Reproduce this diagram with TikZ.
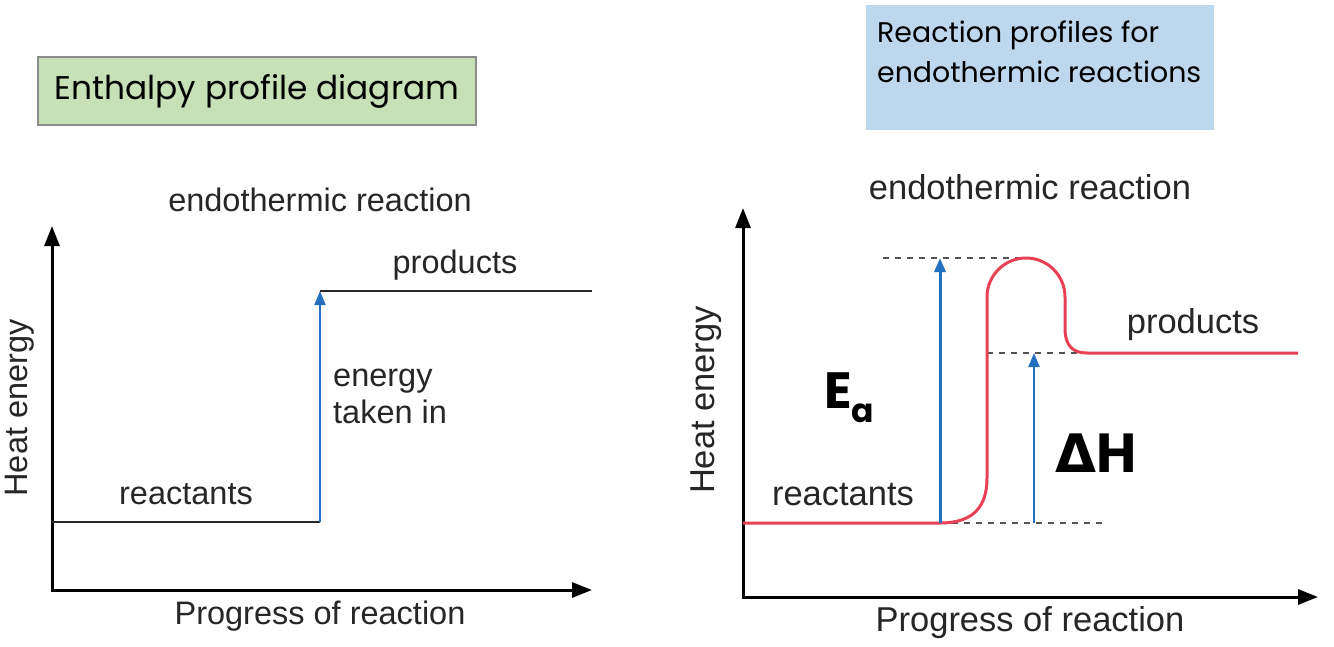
\documentclass[tikz,border=0pt]{standalone}
\usepackage{fontspec}
\setmainfont{Liberation Sans}
\newfontfamily\titlefont{Poppins}
\newfontfamily\symfont{DejaVu Sans}
\usetikzlibrary{arrows.meta}
\definecolor{boxgreen}{RGB}{199,224,182}
\definecolor{boxblue}{RGB}{189,215,238}
\definecolor{curvered}{RGB}{232,64,84}
\definecolor{arrowblue}{RGB}{36,112,192}
\definecolor{levelgray}{RGB}{40,40,40}
\tikzset{
  axis/.style={line width=3pt, black, -{Triangle[width=15pt,length=20pt]}},
  level/.style={line width=2.4pt, levelgray},
  bluearrow/.style={line width=2.2pt, arrowblue, -{Triangle[width=11pt,length=14pt]}},
  dashline/.style={line width=1.4pt, levelgray!80, dash pattern=on 6pt off 6pt},
  lbl/.style={font=\fontsize{32.5}{38}\selectfont, text=black!85, inner sep=0pt},
  rlbl/.style={font=\fontsize{34.5}{40}\selectfont, text=black!85, inner sep=0pt},
  titlebox/.style={inner sep=0pt}
}
\begin{document}
\begin{tikzpicture}[x=1pt,y=-1pt]
\useasboundingbox (0,0) rectangle (1334,646);
% ---------- left panel ----------
\node[titlebox, font=\titlefont\fontsize{32.8}{40}\selectfont, fill=boxgreen, draw=black!45, line width=1.2pt,
      minimum width=438pt, minimum height=68pt] (ltitle) at (257,91) {Enthalpy profile diagram};
\node[lbl] (lhead) at (320,200) {endothermic reaction};
\coordinate (lo) at (52,590);
\coordinate (ly) at (52,226);
\coordinate (lx) at (592,590);
\draw[axis] (lo) -- (ly);
\draw[axis] (51,590) -- (lx);
\coordinate (lr0) at (52,522);
\coordinate (lr1) at (320,522);
\coordinate (lp0) at (320,291);
\coordinate (lp1) at (592,291);
\draw[level] (lr0) -- (lr1);
\draw[level] (lp0) -- (lp1);
\draw[bluearrow] (lr1) -- (lp0);
\node[lbl] (lprod) at (455,265) {products};
\node[lbl] (lreac) at (186,494) {reactants};
\node[lbl, anchor=west, align=left] (ltaken) at (333,396) {energy\\[-1pt]taken in};
\node[lbl, rotate=90] (lyl) at (20,408) {Heat energy};
\node[lbl] (lxl) at (320,616) {Progress of reaction};
% ---------- right panel ----------
\fill[boxblue] (866,5) rectangle (1214,130);
\node[titlebox, anchor=north west, align=left, font=\titlefont\fontsize{28.4}{40}\selectfont] (rtitle) at (877,21) {Reaction profiles for\\endothermic reactions};
\node[rlbl] (rhead) at (1030,187) {endothermic reaction};
\coordinate (ro) at (743,597);
\coordinate (ry) at (743,208);
\coordinate (rx) at (1318,597);
\draw[axis] (ro) -- (ry);
\draw[axis] (742,597) -- (rx);
\coordinate (rr0) at (743,523);
\coordinate (rr1) at (940,523);
\coordinate (rtop) at (1026,258);
\coordinate (rp1) at (1087,353);
\coordinate (rp2) at (1298,353);
% dashed guides
\draw[dashline] (883,258) -- (rtop);
\draw[dashline] (987,353) -- (rp1);
\draw[dashline] (rr1) -- (1106,523);
% red profile
\draw[curvered, line width=3pt, line join=round]
  (rr0) -- (rr1) .. controls (975,523) and (987,505) .. (987,478)
  -- (987,297) arc[start angle=180, end angle=0, radius=39pt]
  -- (1065,328) .. controls (1065,346) and (1073,353) .. (rp1) -- (rp2);
% arrows
\coordinate (eab) at (940,523);
\coordinate (eat) at (940,258);
\coordinate (dhb) at (1034,523);
\coordinate (dht) at (1034,353);
\draw[bluearrow, line width=3pt] (eab) -- (eat);
\draw[bluearrow] (dhb) -- (dht);
\node[rlbl] (rprod) at (1193,325) {products};
\node[rlbl] (rreac) at (843,495) {reactants};
\node[inner sep=0pt, anchor=base west, font=\titlefont\bfseries\fontsize{51}{54}\selectfont] (ea) at (824,408) {E\raisebox{-14pt}{\fontsize{33}{36}\selectfont a}};
\node[inner sep=0pt, anchor=base west, font=\titlefont\bfseries\fontsize{55}{58}\selectfont] (dh) at (1055,472) {{\symfont\bfseries\fontsize{53}{56}\selectfont Δ}H};
\node[rlbl, rotate=90] (ryl) at (706,400) {Heat energy};
\node[rlbl] (rxl) at (1030,623) {Progress of reaction};
\end{tikzpicture}
\end{document}
